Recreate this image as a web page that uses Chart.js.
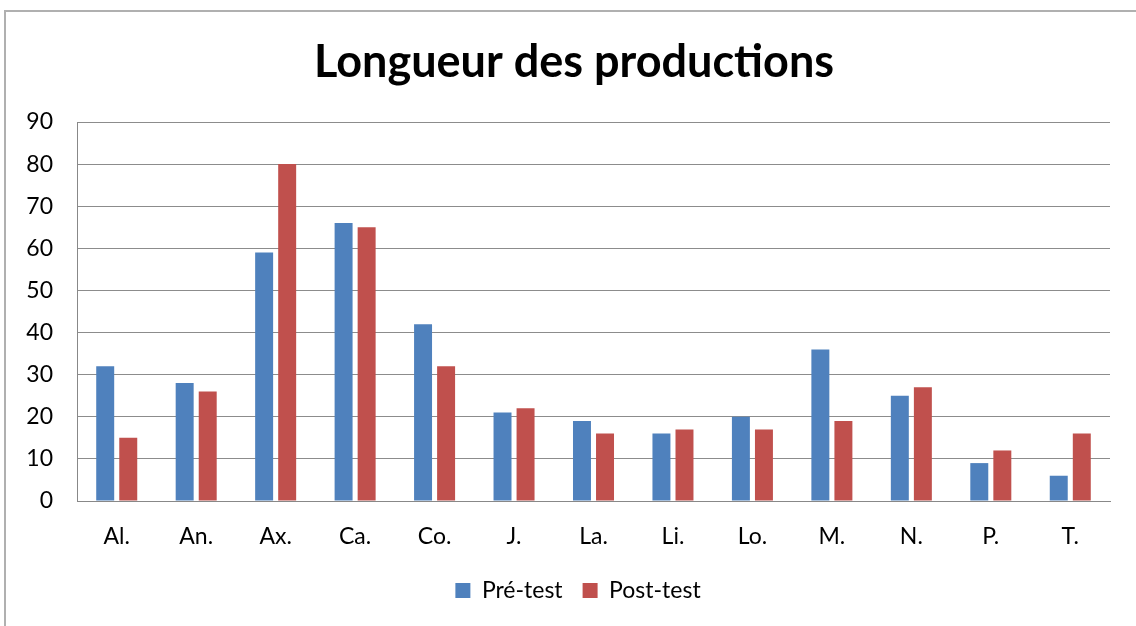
<!DOCTYPE html>
<html lang="fr">
<head>
  <meta charset="UTF-8">
  <title>Longueur des productions</title>
  <script src="https://cdn.jsdelivr.net/npm/chart.js"></script>
  <style>
    body { margin: 0; background: #fff; }
    #wrap { position: relative; width: 1136px; height: 626px; }
    #frame { position: absolute; left: 4px; top: 10px; right: -5px; bottom: -5px;
             border-top: 2px solid #b0b0b0; border-left: 2px solid #b0b0b0; }
    canvas { position: absolute; left: 0; top: 0; }
  </style>
</head>
<body>
  <div id="wrap">
    <div id="frame"></div>
    <canvas id="chart" width="1136" height="626"></canvas>
  </div>

  <script>
    // categories (students) and the two series
    const students = ['Al.', 'An.', 'Ax.', 'Ca.', 'Co.', 'J.', 'La.', 'Li.', 'Lo.', 'M.', 'N.', 'P.', 'T.'];
    const preTest  = [32, 28, 59, 66, 42, 21, 19, 16, 20, 36, 25, 9, 6];
    const postTest = [15, 26, 80, 65, 32, 22, 16, 17, 17, 19, 27, 12, 16];

    const font = 'Lato, "Noto Sans", sans-serif';

    // title and legend sit a bit right of the padded box in the original
    const boxShift = {
      id: 'boxShift',
      afterLayout(chart) {
        chart.legend.left += 23;
        chart.legend.right += 23;
        chart.titleBlock.left += 19;
        chart.titleBlock.right += 19;
      }
    };

    const ctx = document.getElementById('chart').getContext('2d');
    new Chart(ctx, {
      type: 'bar',
      data: {
        labels: students,
        datasets: [
          { label: 'Pré-test', data: preTest, backgroundColor: '#4f81bd' },
          { label: 'Post-test', data: postTest, backgroundColor: '#c0504d' }
        ]
      },
      options: {
        responsive: false,
        animation: false,
        categoryPercentage: 0.58,
        barPercentage: 0.78,
        layout: { padding: { left: 0, right: 26, top: 0, bottom: 14 } },
        plugins: {
          title: {
            display: true,
            text: 'Longueur des productions',
            color: '#000',
            font: { family: font, size: 45, weight: 'bold' },
            padding: { top: 35, bottom: 33 }
          },
          legend: {
            position: 'bottom',
            labels: {
              color: '#000',
              font: { family: font, size: 23 },
              boxWidth: 15,
              boxHeight: 15,
              padding: 20
            }
          },
          tooltip: { enabled: false }
        },
        scales: {
          x: {
            grid: { display: false, drawTicks: false },
            border: { color: '#888', width: 1 },
            ticks: { color: '#000', font: { family: font, size: 23 }, padding: 22 },
            afterFit: s => { s.height = 58; }
          },
          y: {
            min: 0,
            max: 90,
            ticks: { stepSize: 10, color: '#000', font: { family: font, size: 23 }, padding: 24 },
            grid: { color: '#8c8c8c', drawTicks: false },
            border: { color: '#888', width: 1 },
            afterFit: s => { s.width = 77; }
          }
        }
      },
      plugins: [boxShift]
    });
  </script>
</body>
</html>
